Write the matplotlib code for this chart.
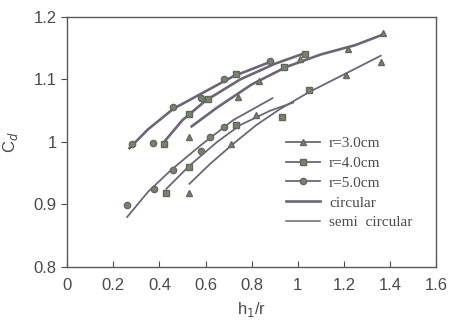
import matplotlib
matplotlib.use("Agg")
import matplotlib.pyplot as plt
from matplotlib.lines import Line2D

# markers
r3_up_x = [0.53, 0.74, 0.83, 1.01, 1.22, 1.37]
r3_up_y = [1.008, 1.072, 1.098, 1.133, 1.148, 1.174]
r4_up_x = [0.42, 0.53, 0.61, 0.73, 0.94, 1.03]
r4_up_y = [0.996, 1.045, 1.068, 1.108, 1.120, 1.141]
r5_up_x = [0.28, 0.37, 0.46, 0.58, 0.68, 0.88]
r5_up_y = [0.997, 0.999, 1.056, 1.071, 1.100, 1.129]

r3_lo_x = [0.53, 0.71, 0.82, 1.21, 1.36]
r3_lo_y = [0.918, 0.997, 1.043, 1.107, 1.128]
r4_lo_x = [0.43, 0.53, 0.73, 0.93, 1.05]
r4_lo_y = [0.918, 0.960, 1.027, 1.040, 1.083]
r5_lo_x = [0.26, 0.375, 0.46, 0.58, 0.62, 0.68]
r5_lo_y = [0.899, 0.925, 0.955, 0.985, 1.008, 1.024]

# fitted curves (circular = upper, semi circular = lower)
c3_x = [0.54, 0.65, 0.80, 0.95, 1.10, 1.25, 1.37]
c3_y = [1.025, 1.055, 1.092, 1.120, 1.140, 1.155, 1.172]
c4_x = [0.42, 0.50, 0.60, 0.75, 0.90, 1.03]
c4_y = [1.000, 1.035, 1.066, 1.100, 1.125, 1.142]
c5_x = [0.27, 0.35, 0.46, 0.58, 0.72, 0.88]
c5_y = [0.990, 1.020, 1.053, 1.077, 1.105, 1.128]

s3_x = [0.53, 0.62, 0.72, 0.82, 0.92, 1.05, 1.20, 1.36]
s3_y = [0.933, 0.965, 0.997, 1.027, 1.052, 1.080, 1.108, 1.138]
s4_x = [0.43, 0.53, 0.65, 0.75, 0.88, 0.98]
s4_y = [0.925, 0.962, 1.000, 1.027, 1.050, 1.063]
s5_x = [0.26, 0.35, 0.45, 0.58, 0.72, 0.89]
s5_y = [0.880, 0.920, 0.955, 0.995, 1.035, 1.070]

line_c = "#6e6478"
mark_c = "#76836f"
txt_c = "#4a4a4a"

plt.rcParams["font.family"] = ["Liberation Sans", "DejaVu Sans"]

fig = plt.figure(figsize=(4.51, 3.26), dpi=100)
ax = fig.add_axes([0.149, 0.181, 0.818, 0.767])

for x, y in [(c3_x, c3_y), (c4_x, c4_y), (c5_x, c5_y)]:
    ax.plot(x, y, color=line_c, lw=1.9)
for x, y in [(s3_x, s3_y), (s4_x, s4_y), (s5_x, s5_y)]:
    ax.plot(x, y, color=line_c, lw=1.3)

mk = dict(ls="none", color=mark_c, ms=4.5, mec="#5f6a5a")
ax.plot(r3_up_x, r3_up_y, marker="^", **mk)
ax.plot(r3_lo_x, r3_lo_y, marker="^", **mk)
ax.plot(r4_up_x, r4_up_y, marker="s", **mk)
ax.plot(r4_lo_x, r4_lo_y, marker="s", **mk)
ax.plot(r5_up_x, r5_up_y, marker="o", **mk)
ax.plot(r5_lo_x, r5_lo_y, marker="o", **mk)

ax.set_xlim(0, 1.6)
ax.set_ylim(0.8, 1.2)
ax.set_xticks([0, 0.2, 0.4, 0.6, 0.8, 1.0, 1.2, 1.4, 1.6])
ax.set_xticklabels(["0", "0.2", "0.4", "0.6", "0.8", "1", "1.2", "1.4", "1.6"])
ax.set_yticks([0.8, 0.9, 1.0, 1.1, 1.2])
ax.set_yticklabels(["0.8", "0.9", "1", "1.1", "1.2"])
ax.tick_params(axis="x", direction="in", length=4, color=txt_c, labelsize=12,
               labelcolor=txt_c, pad=8)
ax.tick_params(axis="y", direction="out", length=4, color=txt_c, labelsize=12,
               labelcolor=txt_c)
for s in ax.spines.values():
    s.set_color("#5a5560")
    s.set_linewidth(1.0)

ax.set_xlabel("h$_1$/r", fontsize=12, color=txt_c, labelpad=5)
ax.set_ylabel("C$_d$", fontsize=12, color=txt_c, labelpad=10)

handles = [
    Line2D([], [], color=line_c, lw=1.3, marker="^", mfc=mark_c, mec="#5f6a5a", ms=4.5),
    Line2D([], [], color=line_c, lw=1.3, marker="s", mfc=mark_c, mec="#5f6a5a", ms=4.5),
    Line2D([], [], color=line_c, lw=1.3, marker="o", mfc=mark_c, mec="#5f6a5a", ms=4.5),
    Line2D([], [], color=line_c, lw=1.9),
    Line2D([], [], color=line_c, lw=1.1),
]
labels = ["r=3.0cm", "r=4.0cm", "r=5.0cm", "circular", "semi  circular"]
ax.legend(handles, labels, loc="upper left", bbox_to_anchor=(0.565, 0.565),
          frameon=False, prop={"family": "Liberation Serif", "size": 11},
          labelcolor=txt_c, handlelength=2.2, handletextpad=0.6,
          labelspacing=0.4, borderpad=0.2)

fig.savefig("out.png", dpi=100)
